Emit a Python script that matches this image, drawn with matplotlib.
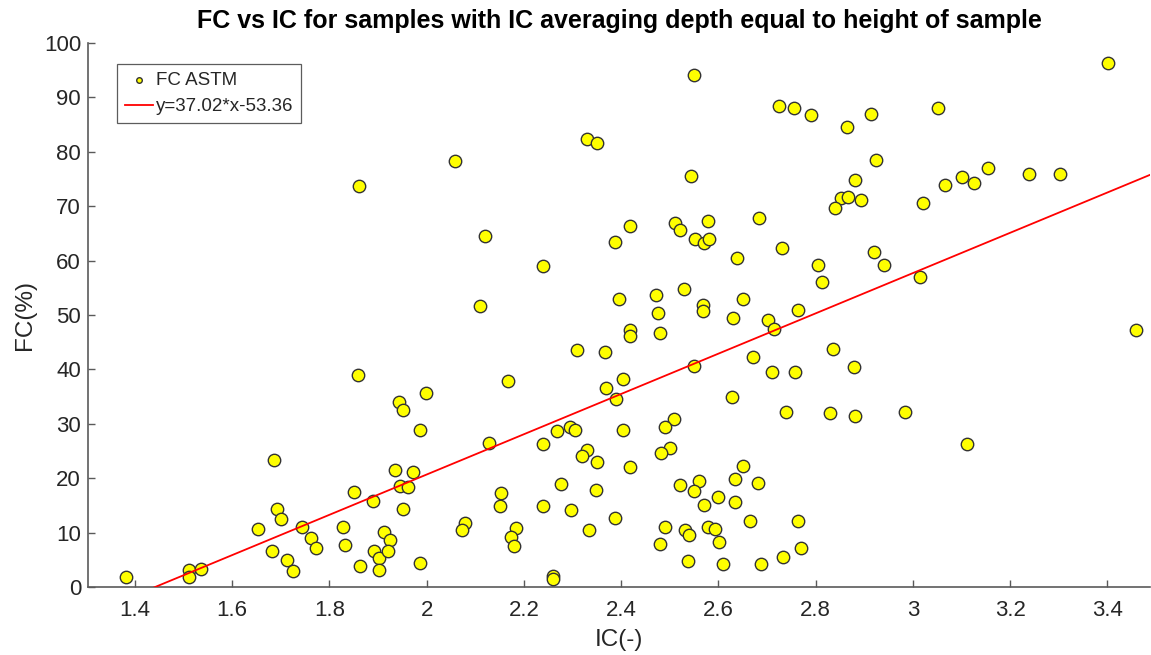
import numpy as np
import matplotlib
matplotlib.use("Agg")
import matplotlib.pyplot as plt

plt.rcParams['font.family'] = ['Liberation Sans', 'DejaVu Sans']

# IC(-) values
ic = [
    1.382, 1.512, 1.512, 1.536, 1.653, 1.686, 1.692, 1.701, 1.681, 1.712,
    1.726, 1.744, 1.761, 1.772, 1.827, 1.832, 1.851, 1.858, 1.862, 1.890,
    1.891, 1.902, 1.902, 1.912, 1.925, 1.921, 1.934, 1.942, 1.951, 1.946,
    1.962, 1.951, 1.972, 1.986, 1.999, 1.987, 1.860, 2.059,
    2.329, 2.350, 2.119, 2.239, 2.109, 2.388, 2.395, 2.549, 2.724, 2.756,
    2.544, 2.419, 2.510, 2.520, 2.579, 2.684, 2.551, 2.571, 2.580, 2.731,
    2.638, 2.471, 2.530, 2.476, 2.568, 2.568, 2.651, 2.631, 2.763, 2.702,
    2.714,
    2.790, 2.864, 2.914, 3.051, 3.401, 2.925, 2.882, 2.852, 2.866, 2.840,
    2.894, 3.021, 3.066, 3.101, 3.126, 3.154, 3.238, 3.303, 2.804, 2.814,
    2.921, 2.940, 3.014, 3.458,
    2.836, 2.878, 2.757, 2.740, 2.829, 2.881, 2.984, 3.112, 2.764, 2.769,
    2.733,
    2.310, 2.366, 2.403, 2.168, 2.369, 2.390, 2.403, 2.128, 2.239, 2.269,
    2.294, 2.306, 2.329, 2.319, 2.350, 2.277, 2.349, 2.152, 2.150, 2.239,
    2.296, 2.388, 2.078, 2.073, 2.184, 2.173, 2.180, 2.333, 2.260, 2.260,
    2.419, 2.419, 2.479, 2.672, 2.550, 2.711, 2.627, 2.508, 2.490, 2.501,
    2.481, 2.419, 2.650, 2.635, 2.682, 2.521, 2.560, 2.550, 2.570, 2.600,
    2.635, 2.490, 2.531, 2.540, 2.579, 2.592, 2.666, 2.479, 2.601, 2.538,
    2.610, 2.688,
]

# FC(%) values
fc = [
    1.8, 3.1, 1.9, 3.3, 10.7, 23.4, 14.4, 12.5, 6.7, 5.0,
    2.9, 11.0, 9.1, 7.2, 11.1, 7.7, 17.4, 39.0, 3.9, 15.8,
    6.6, 5.3, 3.1, 10.1, 8.7, 6.6, 21.5, 34.0, 32.6, 18.6,
    18.4, 14.4, 21.1, 28.9, 35.6, 4.5, 73.7, 78.3,
    82.3, 81.7, 64.5, 59.0, 51.7, 63.5, 52.9, 94.2, 88.4, 88.0,
    75.5, 66.3, 66.9, 65.6, 67.2, 67.9, 63.9, 63.3, 64.0, 62.4,
    60.5, 53.6, 54.7, 50.3, 51.9, 50.7, 52.9, 49.5, 51.0, 49.0,
    47.5,
    86.8, 84.5, 87.0, 88.0, 96.3, 78.5, 74.8, 71.5, 71.7, 69.6,
    71.1, 70.5, 73.9, 75.4, 74.2, 77.0, 76.0, 75.9, 59.1, 56.1,
    61.6, 59.1, 57.0, 47.2,
    43.8, 40.5, 39.5, 32.2, 32.0, 31.5, 32.2, 26.3, 12.2, 7.2,
    5.5,
    43.6, 43.2, 38.3, 37.8, 36.5, 34.6, 28.8, 26.5, 26.2, 28.6,
    29.4, 28.8, 25.1, 24.1, 22.9, 19.0, 17.8, 17.3, 14.8, 14.8,
    14.2, 12.6, 11.8, 10.4, 10.8, 9.2, 7.6, 10.4, 2.1, 1.4,
    47.3, 46.2, 46.7, 42.2, 40.6, 39.5, 34.9, 30.9, 29.5, 25.6,
    24.6, 22.0, 22.2, 19.8, 19.2, 18.7, 19.4, 17.7, 15.1, 16.5,
    15.6, 11.1, 10.5, 9.5, 11.1, 10.6, 12.2, 7.9, 8.3, 4.8,
    4.2, 4.2,
]

slope = 37.02
intercept = -53.36

x_ticks = [1.4, 1.6, 1.8, 2.0, 2.2, 2.4, 2.6, 2.8, 3.0, 3.2, 3.4]
x_tick_labels = ['1.4', '1.6', '1.8', '2', '2.2', '2.4', '2.6', '2.8', '3', '3.2', '3.4']
y_ticks = [0, 10, 20, 30, 40, 50, 60, 70, 80, 90, 100]

axis_col = '#262626'

fig = plt.figure(figsize=(11.51, 6.55), dpi=100)
ax = fig.add_axes([0.0765, 0.1038, 0.9225, 0.8306])

ax.scatter(ic, fc, s=80, facecolor='#ffff00', edgecolor='#333333',
           linewidth=1.0, zorder=3, label='FC ASTM')

ax.set_xlim(1.3034, 3.4875)
ax.set_ylim(0, 100)

xl = np.array(ax.get_xlim())
ax.plot(xl, slope * xl + intercept, color='#ff0000', lw=1.3, zorder=4,
        label='y=%.2f*x%.2f' % (slope, intercept))

ax.set_xticks(x_ticks)
ax.set_xticklabels(x_tick_labels)
ax.set_yticks(y_ticks)

for side in ['top', 'right']:
    ax.spines[side].set_visible(False)
for side in ['left', 'bottom']:
    ax.spines[side].set_color('#5a5a5a')
    ax.spines[side].set_linewidth(1.2)

ax.tick_params(direction='in', length=5, width=1.0, color='#5a5a5a',
               labelcolor=axis_col, labelsize=16)
ax.tick_params(axis='x', pad=9)
ax.tick_params(axis='y', pad=5)

ax.set_xlabel('IC(-)', fontsize=17.5, color=axis_col, labelpad=6)
ax.set_ylabel('FC(%)', fontsize=17.5, color=axis_col, labelpad=6)
ax.set_title('FC vs IC for samples with IC averaging depth equal to height of sample',
             fontsize=18, fontweight='bold', color='#000000', pad=11)

leg = ax.legend(loc='upper left', bbox_to_anchor=(0.0273, 0.9614),
                borderaxespad=0, fontsize=13.5, frameon=True, fancybox=False,
                borderpad=0.4, handlelength=1.5, handletextpad=0.2,
                labelspacing=0.5, markerscale=0.45)
leg.get_frame().set_edgecolor('#333333')
leg.get_frame().set_linewidth(0.9)
for t in leg.get_texts():
    t.set_color(axis_col)

fig.savefig('out.png', dpi=100)
